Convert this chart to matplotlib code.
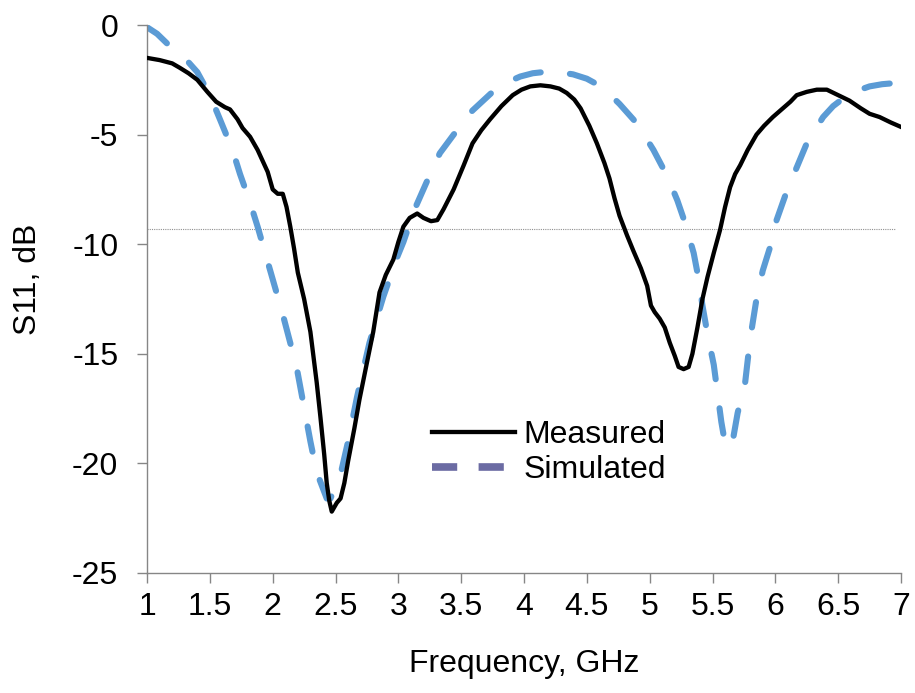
import numpy as np
import matplotlib
matplotlib.use("Agg")
import matplotlib.pyplot as plt
from matplotlib.lines import Line2D

plt.rcParams['font.family'] = ['Liberation Sans', 'DejaVu Sans']
plt.rcParams['axes.unicode_minus'] = False

# measured S11
meas_f = [1.0, 1.1, 1.2, 1.26, 1.33, 1.4, 1.48, 1.55, 1.62, 1.66, 1.72, 1.76, 1.82, 1.88,
          1.92, 1.96, 2.0, 2.04, 2.08, 2.11, 2.14, 2.17, 2.2, 2.25, 2.3, 2.35, 2.38, 2.41,
          2.43, 2.45, 2.47, 2.49, 2.51, 2.54, 2.57, 2.6, 2.65, 2.69, 2.75, 2.8, 2.85, 2.9,
          2.96, 3.0, 3.04, 3.09, 3.15, 3.2, 3.26, 3.31, 3.36, 3.44, 3.52, 3.59, 3.66, 3.73,
          3.82, 3.91, 3.98, 4.05, 4.13, 4.21, 4.28, 4.34, 4.4, 4.45, 4.52, 4.58, 4.64, 4.68,
          4.72, 4.76, 4.82, 4.87, 4.93, 4.98, 5.01, 5.04, 5.08, 5.12, 5.16, 5.2, 5.23, 5.27,
          5.31, 5.34, 5.38, 5.42, 5.46, 5.51, 5.56, 5.6, 5.64, 5.68, 5.72, 5.78, 5.85, 5.91,
          5.98, 6.06, 6.12, 6.17, 6.25, 6.33, 6.41, 6.5, 6.59, 6.68, 6.75, 6.83, 6.92, 7.0]
meas_db = [-1.5, -1.6, -1.75, -1.95, -2.2, -2.5, -3.05, -3.5, -3.75, -3.85, -4.3, -4.7, -5.1, -5.7,
           -6.2, -6.7, -7.5, -7.7, -7.7, -8.3, -9.2, -10.2, -11.3, -12.5, -14.0, -16.3, -17.9, -19.6,
           -20.9, -21.7, -22.2, -22.0, -21.8, -21.6, -20.9, -19.9, -18.4, -17.1, -15.4, -14.0, -12.2, -11.4,
           -10.7, -9.9, -9.2, -8.8, -8.6, -8.8, -8.95, -8.9, -8.4, -7.5, -6.4, -5.4, -4.8, -4.3,
           -3.7, -3.2, -2.95, -2.8, -2.75, -2.8, -2.9, -3.1, -3.4, -3.8, -4.6, -5.4, -6.3, -7.0,
           -7.9, -8.7, -9.6, -10.3, -11.1, -11.9, -12.8, -13.1, -13.4, -13.8, -14.5, -15.1, -15.6, -15.7,
           -15.6, -15.0, -13.8, -12.5, -11.5, -10.4, -9.35, -8.3, -7.4, -6.8, -6.4, -5.7, -5.0, -4.6,
           -4.2, -3.8, -3.5, -3.2, -3.05, -2.95, -2.95, -3.2, -3.45, -3.8, -4.05, -4.2, -4.45, -4.65]

# simulated S11
sim_f = [1.0, 1.08, 1.17, 1.26, 1.33, 1.4, 1.5, 1.58, 1.68, 1.74, 1.82, 1.88, 1.95, 2.0,
         2.08, 2.19, 2.3, 2.35, 2.43, 2.46, 2.54, 2.6, 2.67, 2.77, 2.88, 2.99, 3.04, 3.13,
         3.23, 3.33, 3.44, 3.59, 3.75, 3.87, 3.97, 4.07, 4.15, 4.27, 4.39, 4.5, 4.58, 4.67,
         4.76, 4.9, 5.03, 5.14, 5.22, 5.28, 5.35, 5.39, 5.42, 5.46, 5.51, 5.54, 5.57, 5.6,
         5.63, 5.66, 5.7, 5.76, 5.8, 5.85, 5.9, 5.96, 6.01, 6.09, 6.17, 6.25, 6.38, 6.46,
         6.54, 6.65, 6.75, 6.85, 6.95, 7.0]
sim_db = [-0.1, -0.4, -0.9, -1.35, -1.7, -2.15, -3.2, -4.3, -5.7, -6.8, -8.1, -9.2, -10.6, -11.6,
          -13.2, -15.6, -19.0, -20.4, -21.6, -21.6, -20.5, -19.0, -17.0, -14.5, -12.4, -10.6, -9.9, -8.4,
          -7.1, -5.85, -5.0, -3.9, -3.05, -2.6, -2.35, -2.2, -2.15, -2.15, -2.25, -2.45, -2.7, -3.1,
          -3.6, -4.5, -5.7, -6.9, -8.0, -9.0, -10.4, -11.6, -12.8, -14.1, -15.5, -16.8, -18.1, -19.1,
          -19.3, -19.0, -17.7, -16.3, -14.3, -12.5, -11.2, -10.1, -8.9, -7.6, -6.5, -5.4, -4.2, -3.7,
          -3.35, -3.0, -2.8, -2.7, -2.65, -2.62]

# -10 dB style reference line
ref_f = [1.0, 6.95]
ref_db = [-9.3, -9.3]

fig = plt.figure(figsize=(9.15, 6.93), dpi=100)
ax = fig.add_axes([0.1607, 0.1732, 0.8240, 0.7907])

ax.plot(ref_f, ref_db, color='#909090', lw=0.8, ls=(0, (1, 1)), zorder=1)
ax.plot(sim_f, sim_db, color='#5B9BD5', lw=4.4, dashes=(4.2, 4.8),
        dash_capstyle='round', zorder=2)
ax.plot(meas_f, meas_db, color='black', lw=3.1, solid_joinstyle='round', zorder=3)

ax.set_xlim(1, 7)
ax.set_ylim(-25, 0)
ax.set_xticks(np.arange(1, 7.01, 0.5))
ax.set_xticklabels(['1', '1.5', '2', '2.5', '3', '3.5', '4', '4.5', '5', '5.5', '6', '6.5', '7'])
ax.set_yticks([0, -5, -10, -15, -20, -25])
ax.set_yticklabels(['0', '-5', '-10', '-15', '-20', '-25'])

for s in ['top', 'right']:
    ax.spines[s].set_visible(False)
for s in ['left', 'bottom']:
    ax.spines[s].set_color('#868686')
    ax.spines[s].set_linewidth(1.0)
ax.tick_params(direction='out', length=7.2, width=1, color='#868686', labelsize=23)
ax.tick_params(axis='x', pad=6.5)
ax.tick_params(axis='y', pad=13.5)

ax.set_xlabel('Frequency, GHz', fontsize=23)
ax.set_ylabel('S11, dB', fontsize=23)
ax.xaxis.set_label_coords(0.5, -0.139)
ax.yaxis.set_label_coords(-0.138, 0.536)

handles = [Line2D([], [], color='black', lw=3.1),
           Line2D([], [], color='#6B6BA3', lw=5.5, dashes=(3.3, 2.8))]
ax.legend(handles, ['Measured', 'Simulated'], loc='upper left',
          bbox_to_anchor=(0.378, 0.279), frameon=False, fontsize=23,
          borderpad=0, borderaxespad=0,
          handlelength=2.6, handletextpad=0.25, labelspacing=0.15)

fig.savefig('out.png', dpi=100)
